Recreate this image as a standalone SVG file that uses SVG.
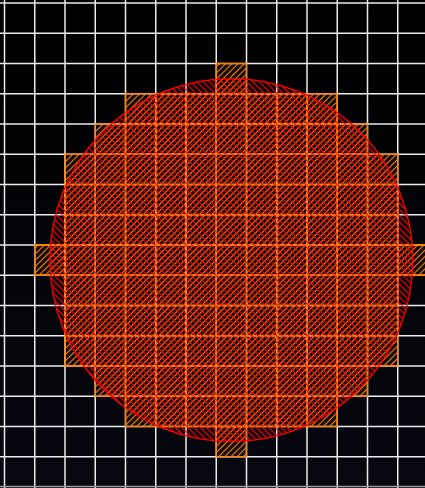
<svg xmlns="http://www.w3.org/2000/svg" width="425" height="488" viewBox="0 0 425 488">
  <defs>
    <linearGradient id="bg" x1="0" y1="0" x2="0" y2="1">
      <stop offset="0" stop-color="#000000"/>
      <stop offset="1" stop-color="#070810"/>
    </linearGradient>
    <pattern id="hOrange" patternUnits="userSpaceOnUse" width="10" height="4.4" patternTransform="rotate(-45)">
      <line x1="0" y1="2.2" x2="10" y2="2.2" stroke="#ff8000" stroke-width="1.2"/>
    </pattern>
    <pattern id="hRed" patternUnits="userSpaceOnUse" width="10" height="4.4" patternTransform="rotate(45)">
      <line x1="0" y1="2.2" x2="10" y2="2.2" stroke="#ff0000" stroke-width="1.2"/>
    </pattern>
  </defs>
  <style>
    .g { stroke: #ececec; stroke-width: 1.5; fill: none; }
    .c { fill: url(#hOrange); stroke: #ff8000; stroke-width: 1.3; }
  </style>
  <rect x="0" y="0" width="425" height="488" fill="url(#bg)"/>
  <g id="grid">
    <path class="g" d="M4.5 0V488M34.75 0V488M65 0V488M95.25 0V488M125.5 0V488M155.75 0V488M186 0V488M216.25 0V488M246.5 0V488M276.75 0V488M307 0V488M337.25 0V488M367.5 0V488M397.75 0V488"/>
    <path class="g" d="M0 3H425M0 33.25H425M0 63.5H425M0 93.75H425M0 124H425M0 154.25H425M0 184.5H425M0 214.75H425M0 245H425M0 275.25H425M0 305.5H425M0 335.75H425M0 366H425M0 396.25H425M0 426.5H425M0 456.75H425"/>
    <line x1="0" y1="486.5" x2="425" y2="486.5" stroke="#9a9a9a" stroke-width="1.5"/>
  </g>
  <g id="cells">
    <rect class="c" x="216.25" y="63.5" width="30.25" height="30.25"/>
    <rect class="c" x="125.5" y="93.75" width="30.25" height="30.25"/>
    <rect class="c" x="155.75" y="93.75" width="30.25" height="30.25"/>
    <rect class="c" x="186" y="93.75" width="30.25" height="30.25"/>
    <rect class="c" x="216.25" y="93.75" width="30.25" height="30.25"/>
    <rect class="c" x="246.5" y="93.75" width="30.25" height="30.25"/>
    <rect class="c" x="276.75" y="93.75" width="30.25" height="30.25"/>
    <rect class="c" x="307" y="93.75" width="30.25" height="30.25"/>
    <rect class="c" x="95.25" y="124" width="30.25" height="30.25"/>
    <rect class="c" x="125.5" y="124" width="30.25" height="30.25"/>
    <rect class="c" x="155.75" y="124" width="30.25" height="30.25"/>
    <rect class="c" x="186" y="124" width="30.25" height="30.25"/>
    <rect class="c" x="216.25" y="124" width="30.25" height="30.25"/>
    <rect class="c" x="246.5" y="124" width="30.25" height="30.25"/>
    <rect class="c" x="276.75" y="124" width="30.25" height="30.25"/>
    <rect class="c" x="307" y="124" width="30.25" height="30.25"/>
    <rect class="c" x="337.25" y="124" width="30.25" height="30.25"/>
    <g id="mid">
      <path class="c" d="M65 154.25H397.75V245H428V275.25H397.75V366H65V275.25H34.75V245H65Z"/>
      <path fill="none" stroke="#ff8000" stroke-width="1.3" d="M95.25 154.25V366M125.5 154.25V366M155.75 154.25V366M186 154.25V366M216.25 154.25V366M246.5 154.25V366M276.75 154.25V366M307 154.25V366M337.25 154.25V366M367.5 154.25V366M65 245V275.25M397.75 245V275.25M65 184.5H397.75M65 214.75H397.75M34.75 245H428M34.75 275.25H428M65 305.5H397.75M65 335.75H397.75"/>
    </g>
    <rect class="c" x="95.25" y="366" width="30.25" height="30.25"/>
    <rect class="c" x="125.5" y="366" width="30.25" height="30.25"/>
    <rect class="c" x="155.75" y="366" width="30.25" height="30.25"/>
    <rect class="c" x="186" y="366" width="30.25" height="30.25"/>
    <rect class="c" x="216.25" y="366" width="30.25" height="30.25"/>
    <rect class="c" x="246.5" y="366" width="30.25" height="30.25"/>
    <rect class="c" x="276.75" y="366" width="30.25" height="30.25"/>
    <rect class="c" x="307" y="366" width="30.25" height="30.25"/>
    <rect class="c" x="337.25" y="366" width="30.25" height="30.25"/>
    <rect class="c" x="125.5" y="396.25" width="30.25" height="30.25"/>
    <rect class="c" x="155.75" y="396.25" width="30.25" height="30.25"/>
    <rect class="c" x="186" y="396.25" width="30.25" height="30.25"/>
    <rect class="c" x="216.25" y="396.25" width="30.25" height="30.25"/>
    <rect class="c" x="246.5" y="396.25" width="30.25" height="30.25"/>
    <rect class="c" x="276.75" y="396.25" width="30.25" height="30.25"/>
    <rect class="c" x="307" y="396.25" width="30.25" height="30.25"/>
    <rect class="c" x="216.25" y="426.5" width="30.25" height="30.25"/>
  </g>
  <g id="circle">
    <circle cx="231.375" cy="260.125" r="181.5" fill="url(#hRed)" stroke="#ff0000" stroke-width="1.3"/>
  </g>
</svg>
